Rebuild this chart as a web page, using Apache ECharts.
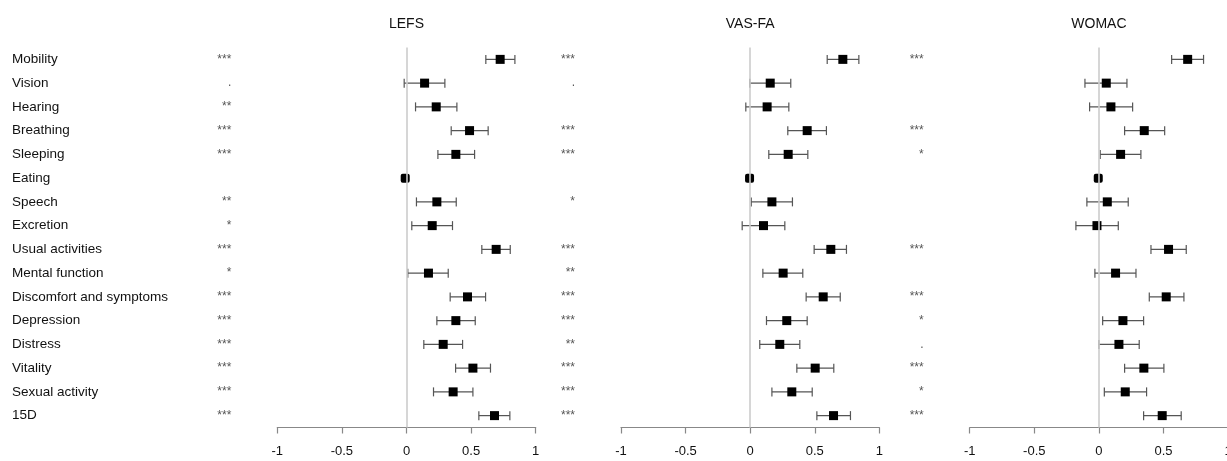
<!DOCTYPE html>
<html><head><meta charset="utf-8">
<script src="https://cdn.jsdelivr.net/npm/echarts@6/dist/echarts.min.js"></script>
<style>html,body{margin:0;padding:0;background:#fff}#c{width:1227px;height:461px}</style>
</head><body><div id="c"></div>
<script>
const categories = ['Mobility','Vision','Hearing','Breathing','Sleeping','Eating','Speech','Excretion','Usual activities','Mental function','Discomfort and symptoms','Depression','Distress','Vitality','Sexual activity','15D'];
const panelNames = ['LEFS','VAS-FA','WOMAC'];
const xTicks = [-1, -0.5, 0, 0.5, 1];

const lefsEst  = [0.725,0.14,0.23,0.488,0.382,-0.01,0.235,0.199,0.694,0.17,0.472,0.382,0.284,0.514,0.361,0.681];
const lefsLow  = [0.614,-0.018,0.07,0.346,0.243,-0.01,0.077,0.041,0.583,0.01,0.338,0.235,0.134,0.38,0.209,0.56];
const lefsHigh = [0.839,0.297,0.39,0.632,0.527,-0.01,0.385,0.356,0.803,0.323,0.612,0.532,0.434,0.65,0.514,0.80];
const lefsSig  = ['***','.','**','***','***','','**','*','***','*','***','***','***','***','***','***'];

const vasEst  = [0.717,0.155,0.131,0.441,0.294,-0.005,0.168,0.103,0.624,0.255,0.565,0.283,0.229,0.503,0.322,0.645];
const vasLow  = [0.596,-0.003,-0.034,0.291,0.144,-0.005,0.008,-0.062,0.495,0.098,0.433,0.126,0.074,0.361,0.168,0.516];
const vasHigh = [0.841,0.314,0.299,0.59,0.446,-0.005,0.327,0.268,0.745,0.407,0.697,0.441,0.384,0.647,0.48,0.776];
const vasSig  = ['***','.','','***','***','','*','','***','**','***','***','**','***','***','***'];

const womacEst  = [0.687,0.057,0.093,0.351,0.168,-0.005,0.065,-0.015,0.539,0.129,0.521,0.186,0.155,0.348,0.204,0.49];
const womacLow  = [0.563,-0.108,-0.072,0.199,0.01,-0.005,-0.093,-0.178,0.403,-0.031,0.39,0.029,0.0,0.199,0.042,0.346];
const womacHigh = [0.81,0.217,0.261,0.509,0.325,-0.005,0.227,0.15,0.676,0.287,0.658,0.346,0.312,0.503,0.369,0.637];
const womacSig  = ['***','','','***','*','','','','***','','***','*','.','***','*','***'];

const panels = [
  {est: lefsEst, low: lefsLow, high: lefsHigh, sig: lefsSig},
  {est: vasEst, low: vasLow, high: vasHigh, sig: vasSig},
  {est: womacEst, low: womacLow, high: womacHigh, sig: womacSig}
];

const gridLefts = [277.3, 621, 969.7];
const gridWidth = 258.4;
const gridTop = 47.5, gridHeight = 380;
const font = 'Liberation Sans, Arial, Helvetica, sans-serif';

function renderItem(params, api) {
  const yi = api.value(0);
  const est = api.value(1), lo = api.value(2), hi = api.value(3);
  const c = api.coord([est, yi]);
  const l = api.coord([lo, yi]);
  const h = api.coord([hi, yi]);
  const cap = 4.5, s = 9;
  const children = [];
  const ls = {stroke: '#555', lineWidth: 1.2};
  if (hi > lo) {
    children.push({type:'line', shape:{x1:l[0], y1:c[1], x2:h[0], y2:c[1]}, style: ls});
    children.push({type:'line', shape:{x1:l[0], y1:c[1]-cap, x2:l[0], y2:c[1]+cap}, style: ls});
    children.push({type:'line', shape:{x1:h[0], y1:c[1]-cap, x2:h[0], y2:c[1]+cap}, style: ls});
  }
  children.push({type:'rect', shape:{x:c[0]-s/2, y:c[1]-s/2, width:s, height:s, r: hi > lo ? 0 : 2}, style:{fill:'#000'}});
  return {type:'group', children};
}

const grid = [], xAxis = [], yAxis = [], series = [], title = [];
panels.forEach((p, i) => {
  grid.push({left: gridLefts[i], top: gridTop, width: gridWidth, height: gridHeight, containLabel: false, outerBoundsMode: 'none'});
  xAxis.push({
    type: 'value', gridIndex: i, min: xTicks[0], max: xTicks[xTicks.length-1], interval: 0.5,
    axisLine: {show: true, lineStyle: {color: '#888', width: 1.2}},
    axisTick: {show: true, length: 6, lineStyle: {color: '#888', width: 1.2}},
    splitLine: {show: false},
    axisLabel: {fontSize: 13, color: '#111', margin: 17, fontFamily: font, hideOverlap: false}
  });
  // significance stars axis
  yAxis.push({
    type: 'category', gridIndex: i, inverse: true, data: p.sig, position: 'left',
    axisLine: {show: false}, axisTick: {show: false}, splitLine: {show: false},
    axisLabel: {interval: 0, align: 'right', margin: 46, fontSize: 12, color: '#555', fontFamily: font}
  });
  const yIdx = yAxis.length - 1;
  title.push({
    text: panelNames[i], left: gridLefts[i] + gridWidth/2 - 5, top: 12, textAlign: 'center',
    textStyle: {fontSize: 14, fontWeight: 'normal', color: '#111', fontFamily: font}
  });
  series.push({
    type: 'line', xAxisIndex: i, yAxisIndex: yIdx, data: [], z: 1, silent: true,
    markLine: {symbol: 'none', silent: true, label: {show: false},
      lineStyle: {color: '#ccc', width: 1.6, type: 'solid'},
      data: [{xAxis: 0}]}
  });
  series.push({
    type: 'custom', xAxisIndex: i, yAxisIndex: yIdx, z: 3,
    renderItem: renderItem,
    encode: {x: [1,2,3], y: 0},
    data: categories.map((c, k) => [k, p.est[k], p.low[k], p.high[k]])
  });
});
// category labels axis on first grid
yAxis.push({
  type: 'category', gridIndex: 0, inverse: true, data: categories, position: 'left',
  axisLine: {show: false}, axisTick: {show: false}, splitLine: {show: false},
  axisLabel: {interval: 0, align: 'left', margin: gridLefts[0] - 12, fontSize: 13.5, color: '#111', fontFamily: font}
});

const chart = echarts.init(document.getElementById('c'), null, {renderer: 'canvas'});
chart.setOption({animation: false, backgroundColor: '#fff', title, grid, xAxis, yAxis, series});
</script>
</body></html>
